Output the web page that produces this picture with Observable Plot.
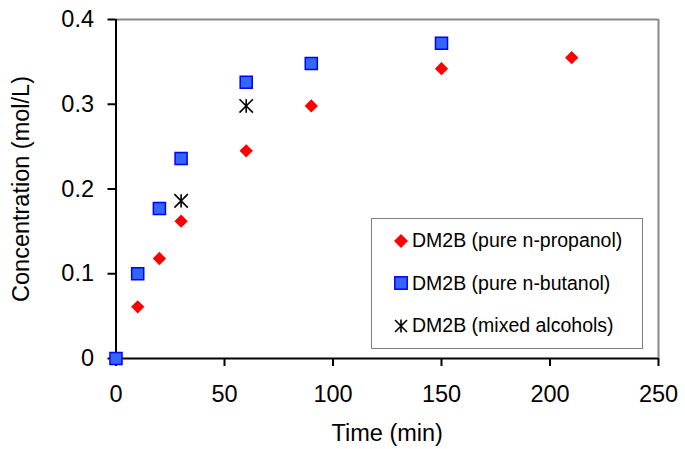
<!DOCTYPE html>
<html>
<head>
<meta charset="utf-8">
<script src="https://cdn.jsdelivr.net/npm/d3@7"></script>
<script src="https://cdn.jsdelivr.net/npm/@observablehq/plot@0.6"></script>
<style>
  body { margin: 0; background: white; }
  #wrap { position: relative; width: 685px; height: 449px; font-family: "Liberation Sans", Arial, sans-serif; }
  #legend { position: absolute; left: 370.5px; top: 218px; width: 270px; height: 129px;
            border: 1.5px solid #808080; background: white; box-sizing: content-box; }
  .row { position: absolute; left: 19px; height: 20px; display: flex; align-items: center;
         font-size: 19.5px; color: black; white-space: pre; }
  .row svg { width: 20px; height: 20px; margin-right: 1.5px; }
</style>
</head>
<body>
<div id="wrap"></div>
<script>
// ---- data ----
const timePropanol = [0, 10, 20, 30, 60, 90, 150, 210];
const concPropanol = [0, 0.061, 0.118, 0.162, 0.245, 0.298, 0.342, 0.355];
const timeButanol = [0, 10, 20, 30, 60, 90, 150];
const concButanol = [0, 0.100, 0.177, 0.236, 0.326, 0.348, 0.372];
const timeMixed = [30, 60];
const concMixed = [0.186, 0.298];

const seriesNames = ["DM2B (pure n-propanol)", "DM2B (pure n-butanol)", "DM2B (mixed alcohols)"];
const xTicks = [0, 50, 100, 150, 200, 250];
const xTickLabels = ["0", "50", "100", "150", "200", "250"];
const yTicks = [0, 0.1, 0.2, 0.3, 0.4];
const yTickLabels = ["0", "0.1", "0.2", "0.3", "0.4"];
const xTitle = "Time (min)";
const yTitle = "Concentration (mol/L)";

const propanol = timePropanol.map((t, i) => ({t, c: concPropanol[i]}));
const butanol = timeButanol.map((t, i) => ({t, c: concButanol[i]}));
const mixed = timeMixed.map((t, i) => ({t, c: concMixed[i]}));

// X with vertical bar (asterisk like Excel's)
const starSymbol = {
  draw(ctx, size) {
    const r = Math.sqrt(size / Math.PI);
    ctx.moveTo(0, -r); ctx.lineTo(0, r);
    ctx.moveTo(-r, -r); ctx.lineTo(r, r);
    ctx.moveTo(-r, r); ctx.lineTo(r, -r);
  }
};

const font = '"Liberation Sans", Arial, sans-serif';

const chart = Plot.plot({
  width: 685,
  height: 449,
  marginLeft: 115.5,
  marginRight: 27,
  marginTop: 19,
  marginBottom: 91,
  style: {fontFamily: font, fontSize: "23.5px", background: "white", color: "black", overflow: "visible"},
  x: {domain: [0, 250]},
  y: {domain: [0, 0.4]},
  marks: [
    Plot.ruleY([0.4], {stroke: "#888888", strokeWidth: 2}),
    Plot.ruleX([250], {stroke: "#888888", strokeWidth: 2}),
    Plot.axisY(yTicks, {
      tickSize: 8, tickPadding: 14, strokeWidth: 2, fontSize: 23.5,
      tickFormat: d => yTickLabels[yTicks.indexOf(d)],
      label: yTitle, labelAnchor: "center", labelArrow: "none", labelOffset: 104
    }),
    Plot.axisX(xTicks, {
      tickSize: 8, tickPadding: 19, strokeWidth: 2, fontSize: 23.5,
      tickFormat: d => xTickLabels[xTicks.indexOf(d)],
      label: xTitle, labelAnchor: "center", labelArrow: "none", labelOffset: 82
    }),
    Plot.ruleX([0], {stroke: "black", strokeWidth: 2}),
    Plot.ruleY([0], {stroke: "black", strokeWidth: 2}),
    Plot.dot(propanol, {x: "t", y: "c", symbol: "diamond2", r: 6, fill: "#ff0000", stroke: "none"}),
    Plot.dot(butanol, {x: "t", y: "c", symbol: "square", r: 6.8, fill: "#3366ff", stroke: "#0000ff", strokeWidth: 1.5}),
    Plot.dot(mixed, {x: "t", y: "c", symbol: starSymbol, r: 6.7, fill: "none", stroke: "black", strokeWidth: 1.6})
  ]
});

const wrap = document.getElementById("wrap");
wrap.appendChild(chart);

// legend
const legend = document.createElement("div");
legend.id = "legend";
const icons = [
  '<svg viewBox="-10 -10 20 20"><path d="M0,-7L7,0L0,7L-7,0Z" fill="#ff0000"/></svg>',
  '<svg viewBox="-10 -10 20 20"><rect x="-6.2" y="-6.2" width="12.4" height="12.4" fill="#3366ff" stroke="#0000ff" stroke-width="1.5"/></svg>',
  '<svg viewBox="-10 -10 20 20"><path d="M0,-6.5V6.5M-6,-6L6,6M-6,6L6,-6" stroke="black" stroke-width="1.6" fill="none"/></svg>'
];
const rowTops = [11.5, 54, 96.5];
seriesNames.forEach((name, i) => {
  const row = document.createElement("div");
  row.className = "row";
  row.style.top = rowTops[i] + "px";
  row.innerHTML = icons[i] + '<span>' + name + '</span>';
  legend.appendChild(row);
});
wrap.appendChild(legend);
</script>
</body>
</html>
